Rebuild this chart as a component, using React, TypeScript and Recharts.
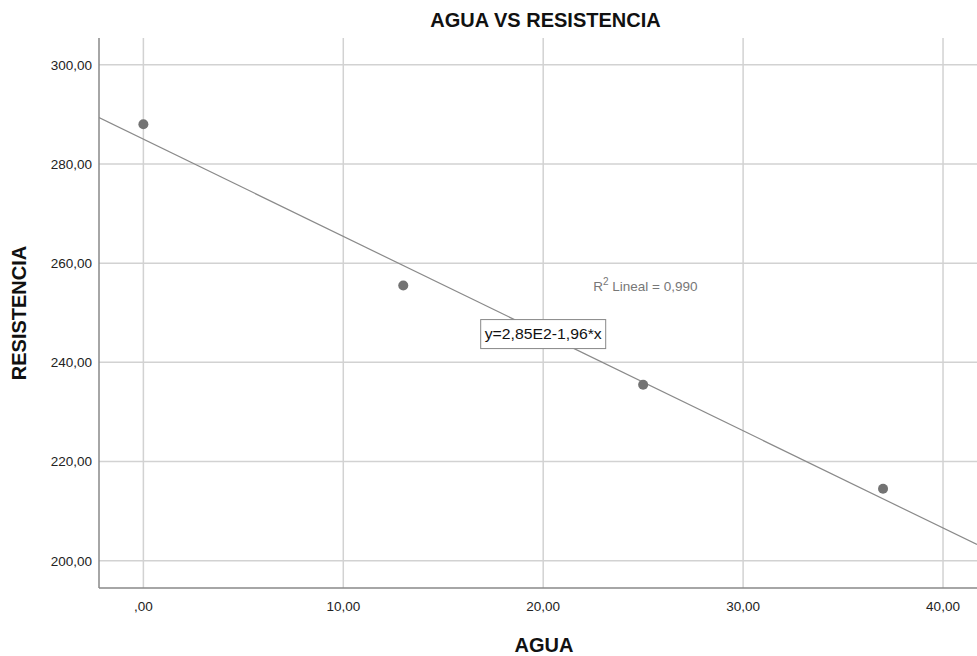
import React from 'react';
import { ScatterChart, Scatter, XAxis, YAxis, CartesianGrid, ReferenceLine, ReferenceDot, Label } from 'recharts';

const agua = [0, 13, 25, 37];
const resistencia = [288, 255.5, 235.5, 214.5];
const xTicks = [0, 10, 20, 30, 40];
const yTicks = [200, 220, 240, 260, 280, 300];
const xDomain: [number, number] = [-2.22, 41.7];
const yDomain: [number, number] = [194.5, 305.4];
const intercept = 285;
const slope = -1.96;
const equationText = 'y=2,85E2-1,96*x';
const r2Text = '0,990';
const title = 'AGUA VS RESISTENCIA';
const xLabel = 'AGUA';
const yLabel = 'RESISTENCIA';

const points = agua.map((x, i) => ({ x, y: resistencia[i] }));

const fmt = (v: number) => {
  const s = v.toFixed(2).replace('.', ',');
  return s.startsWith('0,') ? s.slice(1) : s;
};

const FONT = '"Liberation Sans", Arial, sans-serif';

const EquationBox = (props: any) => {
  const { cx, cy } = props;
  const w = 125, h = 29;
  return (
    <g>
      <rect x={cx - w / 2} y={cy - h / 2} width={w} height={h} fill="#fff" stroke="#888" strokeWidth={1} />
      <text x={cx} y={cy + 5} textAnchor="middle" fontSize={15} fontFamily={FONT} fill="#111" textLength={117} lengthAdjust="spacingAndGlyphs">{equationText}</text>
    </g>
  );
};

const R2Label = (props: any) => {
  const { cx, cy } = props;
  return (
    <text x={cx} y={cy + 5} fontSize={13.5} fontFamily={FONT} fill="#777">
      R<tspan dy={-6} fontSize={10}>2</tspan><tspan dy={6}> Lineal = {r2Text}</tspan>
    </text>
  );
};

export default function App() {
  return (
    <div style={{ position: 'absolute', left: 0, top: 0, width: 977, height: 656, background: '#fff' }}>
      <div style={{ position: 'absolute', left: 0, top: 9, width: 1091, lineHeight: '23px', textAlign: 'center', fontFamily: FONT, fontWeight: 'bold', fontSize: 20, color: '#111' }}>{title}</div>
      <ScatterChart width={977} height={656} margin={{ top: 38, right: 0, bottom: 0, left: 0 }}>
        <CartesianGrid stroke="#d2d2d2" strokeWidth={1.5} horizontalValues={yTicks} verticalValues={xTicks} />
        <XAxis
          type="number"
          dataKey="x"
          domain={xDomain}
          ticks={xTicks}
          tickFormatter={fmt}
          allowDataOverflow
          height={68}
          tickLine={false}
          tickSize={0}
          tickMargin={13}
          axisLine={{ stroke: '#888', strokeWidth: 1.5 }}
          tick={{ fill: '#222', fontSize: 13.5, fontFamily: FONT }}
        >
          <Label value={xLabel} position="insideBottom" offset={4} dx={6} style={{ fontFamily: FONT, fontWeight: 'bold', fontSize: 20, fill: '#111' }} />
        </XAxis>
        <YAxis
          type="number"
          dataKey="y"
          domain={yDomain}
          ticks={yTicks}
          tickFormatter={fmt}
          allowDataOverflow
          width={99}
          tickLine={false}
          tickSize={0}
          tickMargin={7}
          axisLine={{ stroke: '#888', strokeWidth: 1.5 }}
          tick={{ fill: '#222', fontSize: 13.5, fontFamily: FONT }}
        >
          <Label value={yLabel} angle={-90} position="insideLeft" offset={19} style={{ fontFamily: FONT, fontWeight: 'bold', fontSize: 20, fill: '#111', textAnchor: 'middle' }} />
        </YAxis>
        <ReferenceLine
          segment={[
            { x: xDomain[0], y: intercept + slope * xDomain[0] },
            { x: xDomain[1], y: intercept + slope * xDomain[1] },
          ]}
          stroke="#8a8a8a"
          strokeWidth={1.2}
          ifOverflow="hidden"
        />
        <Scatter data={points} fill="#737373" isAnimationActive={false} shape={(p: any) => <circle cx={p.cx} cy={p.cy} r={5} fill="#737373" />} />
        <ReferenceDot x={22.5} y={255.4} ifOverflow="visible" shape={R2Label} />
        <ReferenceDot x={20} y={245.7} ifOverflow="visible" shape={EquationBox} />
      </ScatterChart>
    </div>
  );
}
